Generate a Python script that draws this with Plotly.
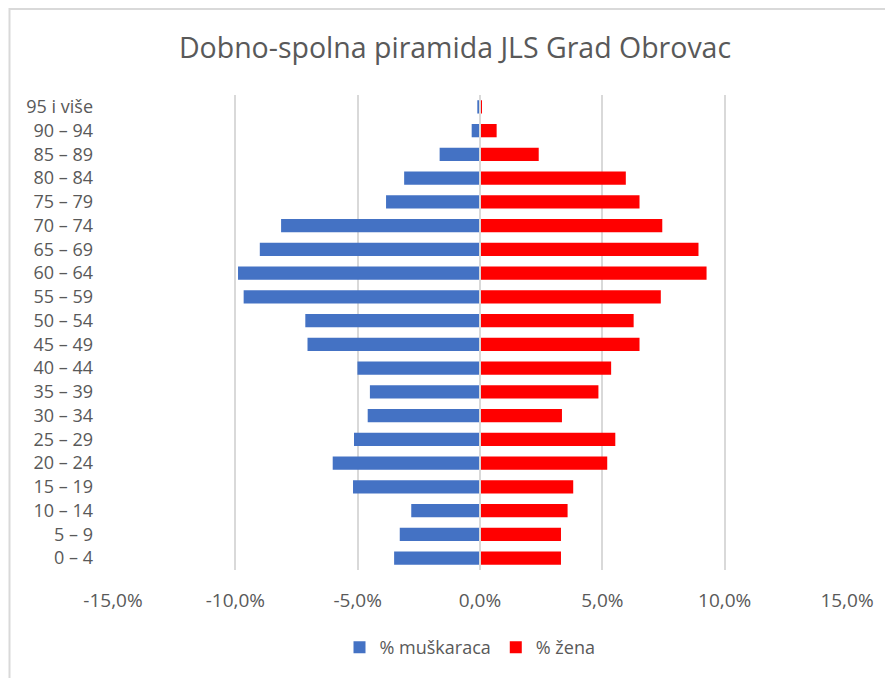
import plotly.graph_objects as go

# Age groups, bottom to top
age_groups = [
    "0 – 4", "5 – 9", "10 – 14", "15 – 19", "20 – 24", "25 – 29", "30 – 34",
    "35 – 39", "40 – 44", "45 – 49", "50 – 54", "55 – 59", "60 – 64",
    "65 – 69", "70 – 74", "75 – 79", "80 – 84", "85 – 89", "90 – 94", "95 i više",
]

# Share of population (%) per age group
men_pct = [
    3.51, 3.28, 2.81, 5.19, 6.02, 5.15, 4.59, 4.50, 5.01, 7.05,
    7.14, 9.66, 9.89, 9.00, 8.13, 3.84, 3.10, 1.65, 0.34, 0.11,
]
women_pct = [
    3.31, 3.31, 3.58, 3.81, 5.20, 5.53, 3.35, 4.84, 5.36, 6.52,
    6.28, 7.39, 9.26, 8.93, 7.45, 6.52, 5.96, 2.40, 0.68, 0.08,
]

x_ticks = [-15, -10, -5, 0, 5, 10, 15]
x_tick_labels = ["-15,0%", "-10,0%", "-5,0%", "0,0%", "5,0%", "10,0%", "15,0%"]

series_names = ["% muškaraca", "% žena"]
title_text = "Dobno-spolna piramida JLS Grad Obrovac"

W, H = 885, 678
L, R, T, B = 113, 38, 95, 105
plot_w = W - L - R
plot_h = H - T - B

font_family = "Open Sans"
text_color = "#595959"
grid_color = "#d9d9d9"

fig = go.Figure()
fig.add_trace(go.Bar(
    y=age_groups, x=[-v for v in men_pct], orientation="h",
    name=series_names[0], marker=dict(color="#4472C4", line=dict(width=0)),
    width=0.56,
))
fig.add_trace(go.Bar(
    y=age_groups, x=women_pct, orientation="h",
    name=series_names[1], marker=dict(color="#FF0000", line=dict(width=0)),
    width=0.56,
))

# paper coordinates for the outer chart frame
def px_to_paper_x(px):
    return (px - L) / plot_w

def py_to_paper_y(py):
    return (H - B - py) / plot_h

fig.update_layout(
    width=W, height=H,
    margin=dict(l=L, r=R, t=T, b=B, pad=0),
    barmode="overlay",
    plot_bgcolor="white", paper_bgcolor="white",
    font=dict(family=font_family, color=text_color, size=17),
    title=dict(
        text=title_text, x=455 / W, xanchor="center", xref="container",
        y=1 - 48 / H, yanchor="middle",
        font=dict(size=28.5, color=text_color, family=font_family),
    ),
    xaxis=dict(
        range=[-15, 15], tickvals=x_ticks, ticktext=x_tick_labels,
        showgrid=True, gridcolor=grid_color, gridwidth=1.5,
        zeroline=False, showline=False, ticks="",
        tickfont=dict(size=19, color=text_color), ticklabelstandoff=17,
        fixedrange=True,
    ),
    yaxis=dict(
        type="category", categoryorder="array", categoryarray=age_groups,
        showgrid=False, zeroline=False, showline=False, ticks="",
        tickfont=dict(size=18, color=text_color), ticklabelstandoff=19,
        fixedrange=True,
    ),
    legend=dict(
        orientation="h", x=px_to_paper_x(470), xanchor="center",
        y=py_to_paper_y(651), yanchor="middle",
        font=dict(size=18, color=text_color),
        itemwidth=30, traceorder="normal",
    ),
    shapes=[
        # vertical category axis at zero
        dict(type="line", xref="x", yref="paper", x0=0, x1=0, y0=0, y1=1,
             line=dict(color=grid_color, width=2), layer="above"),
        # chart frame
        dict(type="rect", xref="paper", yref="paper",
             x0=px_to_paper_x(9.5), x1=px_to_paper_x(900),
             y0=py_to_paper_y(700), y1=py_to_paper_y(8.5),
             line=dict(color="#d9d9d9", width=2), fillcolor="rgba(0,0,0,0)",
             layer="below"),
    ],
)

fig.write_html("out.html")
